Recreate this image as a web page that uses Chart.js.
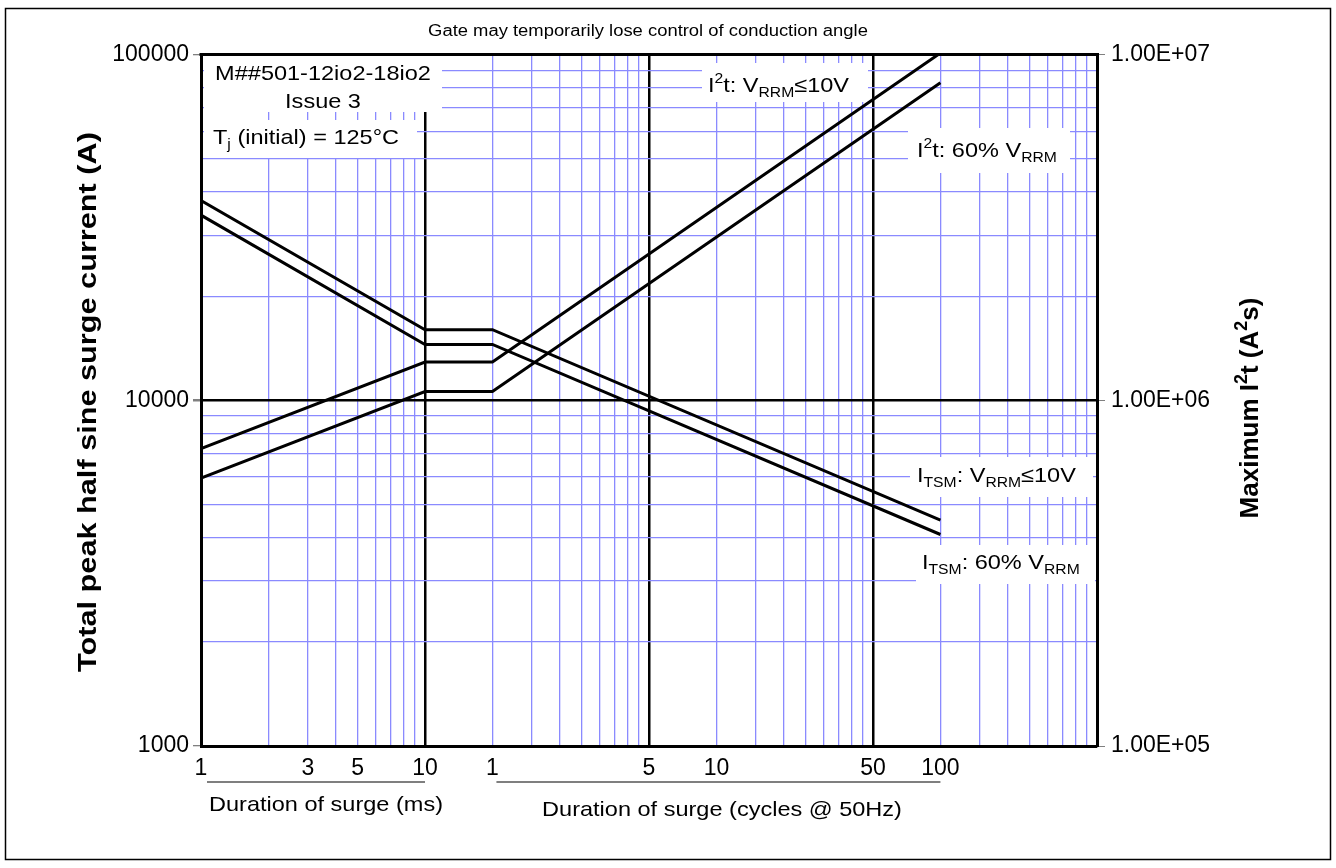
<!DOCTYPE html>
<html>
<head>
<meta charset="utf-8">
<script src="https://cdn.jsdelivr.net/npm/chart.js@4"></script>
<style>
html,body{margin:0;padding:0;background:#fff;}
canvas{display:block;}
</style>
</head>
<body>
<canvas id="c" width="1336" height="868"></canvas>
<script>
// ---- data (durations in ms; 1 cycle @ 50Hz = 20 ms) ----
const durationsMs = [1, 10, 20, 2000];
const itsmLow  = [37800, 16000, 16000, 4500];      // I_TSM, V_RRM <= 10V (A)
const itsm60   = [34300, 14500, 14500, 4090];      // I_TSM, 60% V_RRM (A)
const i2tLow   = [725000, 1290000, 1290000, 10100000]; // I2t, V_RRM <= 10V (A2s)
const i2t60    = [595000, 1060000, 1060000, 8290000];  // I2t, 60% V_RRM (A2s)

const xLabelValues = [1, 3, 5, 10, 20, 100, 200, 1000, 2000];
const xLabelTexts  = ['1', '3', '5', '10', '1', '5', '10', '50', '100'];
const yLabelValues = [1000, 10000, 100000];
const yLabelTexts  = ['1000', '10000', '100000'];
const y2LabelValues = [1e5, 1e6, 1e7];
const y2LabelTexts  = ['1.00E+05', '1.00E+06', '1.00E+07'];

const FONT = '"Liberation Sans", Arial, Helvetica, sans-serif';
const BLUE = '#8a8aff';

function logGrid(min, max) {
  const out = [];
  for (let d = min; d < max; d *= 10) {
    for (let k = 1; k < 10; k++) out.push(d * k);
  }
  out.push(max);
  return out;
}
const xGrid = logGrid(1, 10000);
const yGrid = logGrid(1000, 100000);

function mkPts(ys) { return durationsMs.map((x, i) => ({x: x, y: ys[i]})); }

function drawRich(ctx, segs, x, y, size, opts) {
  opts = opts || {};
  const bold = opts.bold ? 'bold ' : '';
  const sx = opts.sx || 1;
  const align = opts.align || 'left';
  const fontFor = s => bold + (s.s ? Math.round(size * 0.68) : size) + 'px ' + FONT;
  let w = 0;
  segs.forEach(s => { ctx.font = fontFor(s); w += ctx.measureText(s.t).width; });
  ctx.save();
  ctx.translate(x, y);
  if (opts.rot) ctx.rotate(opts.rot);
  ctx.scale(sx, 1);
  ctx.fillStyle = opts.color || '#000';
  ctx.textBaseline = 'alphabetic';
  ctx.textAlign = 'left';
  let cx = align === 'center' ? -w / 2 : (align === 'right' ? -w : 0);
  segs.forEach(s => {
    ctx.font = fontFor(s);
    let dy = 0;
    if (s.s === 'sub') dy = size * 0.24;
    if (s.s === 'sup') dy = -size * 0.42;
    ctx.fillText(s.t, cx, dy);
    cx += ctx.measureText(s.t).width;
  });
  ctx.restore();
}

const SX = 1.12;
const boxes = [
  {r: [204, 56, 442, 112], lines: [
    {segs: [{t: 'M##501-12io2-18io2'}], x: 323, y: 80, align: 'center'},
    {segs: [{t: 'Issue 3'}], x: 323, y: 107.5, align: 'center'}]},
  {r: [204, 120, 417, 158], lines: [
    {segs: [{t: 'T'}, {t: 'j', s: 'sub'}, {t: ' (initial) = 125°C'}], x: 213, y: 143.5}]},
  {r: [702, 63, 868, 102], lines: [
    {segs: [{t: 'I'}, {t: '2', s: 'sup'}, {t: 't: V'}, {t: 'RRM', s: 'sub'}, {t: '\u226410V'}], x: 708, y: 91.5}]},
  {r: [908, 128, 1070, 173], lines: [
    {segs: [{t: 'I'}, {t: '2', s: 'sup'}, {t: 't: 60% V'}, {t: 'RRM', s: 'sub'}], x: 917, y: 156.5}]},
  {r: [910, 457, 1093, 497], lines: [
    {segs: [{t: 'I'}, {t: 'TSM', s: 'sub'}, {t: ': V'}, {t: 'RRM', s: 'sub'}, {t: '\u226410V'}], x: 917, y: 481.5}]},
  {r: [916, 545, 1095, 584], lines: [
    {segs: [{t: 'I'}, {t: 'TSM', s: 'sub'}, {t: ': 60% V'}, {t: 'RRM', s: 'sub'}], x: 922, y: 568.5}]}
];

const decorPlugin = {
  id: 'decor',
  beforeDraw(chart) {
    const ctx = chart.ctx;
    ctx.save();
    ctx.fillStyle = '#fff';
    ctx.fillRect(0, 0, chart.width, chart.height);
    ctx.strokeStyle = '#000';
    ctx.lineWidth = 1.5;
    ctx.strokeRect(5.5, 8.5, 1325, 851);
    ctx.restore();
  },
  beforeDatasetsDraw(chart) {
    const ctx = chart.ctx;
    ctx.save();
    boxes.forEach(b => {
      ctx.fillStyle = '#fff';
      ctx.fillRect(b.r[0], b.r[1], b.r[2] - b.r[0], b.r[3] - b.r[1]);
      b.lines.forEach(l => drawRich(ctx, l.segs, l.x, l.y, 21, {sx: SX, align: l.align}));
    });
    ctx.restore();
  },
  afterDraw(chart) {
    const ctx = chart.ctx;
    const a = chart.chartArea;
    const xs = chart.scales.x;
    ctx.save();
    // top frame of plot
    ctx.strokeStyle = '#000';
    ctx.lineWidth = 3;
    ctx.beginPath();
    ctx.moveTo(a.left - 1.5, a.top);
    ctx.lineTo(a.right + 1.5, a.top);
    ctx.stroke();
    // title
    drawRich(ctx, [{t: 'Gate may temporarily lose control of conduction angle'}], 648, 35.5, 16, {sx: 1.15, align: 'center'});
    // axis titles
    drawRich(ctx, [{t: 'Total peak half sine surge current (A)'}], 96, 402, 26, {bold: true, align: 'center', rot: -Math.PI / 2, sx: 1.18});
    drawRich(ctx, [{t: 'Maximum I'}, {t: '2', s: 'sup'}, {t: 't (A'}, {t: '2', s: 'sup'}, {t: 's)'}], 1258, 408, 26, {bold: true, align: 'center', rot: -Math.PI / 2});
    // x group underlines
    ctx.strokeStyle = '#7f7f7f';
    ctx.lineWidth = 2;
    ctx.beginPath();
    ctx.moveTo(xs.getPixelForValue(1) + 6, 782);
    ctx.lineTo(xs.getPixelForValue(10), 782);
    ctx.moveTo(xs.getPixelForValue(20) + 4, 782);
    ctx.lineTo(xs.getPixelForValue(2000), 782);
    ctx.stroke();
    drawRich(ctx, [{t: 'Duration of surge (ms)'}], 326, 810.5, 21, {sx: SX, align: 'center'});
    drawRich(ctx, [{t: 'Duration of surge (cycles @ 50Hz)'}], 722, 815.5, 21, {sx: SX, align: 'center'});
    ctx.restore();
  }
};

const lineStyle = {borderColor: '#000', borderWidth: 3, pointRadius: 0, fill: false, tension: 0};

new Chart(document.getElementById('c'), {
  type: 'line',
  data: {
    datasets: [
      Object.assign({label: 'ITSM VRRM<=10V', data: mkPts(itsmLow), yAxisID: 'y'}, lineStyle),
      Object.assign({label: 'ITSM 60% VRRM', data: mkPts(itsm60), yAxisID: 'y'}, lineStyle),
      Object.assign({label: 'I2t VRRM<=10V', data: mkPts(i2tLow), yAxisID: 'y2'}, lineStyle),
      Object.assign({label: 'I2t 60% VRRM', data: mkPts(i2t60), yAxisID: 'y2'}, lineStyle)
    ]
  },
  options: {
    responsive: false,
    devicePixelRatio: 1,
    animation: false,
    parsing: true,
    layout: {padding: {top: 54.5, left: 0, right: 0, bottom: 0}},
    plugins: {legend: {display: false}, tooltip: {enabled: false}, title: {display: false}},
    scales: {
      x: {
        type: 'logarithmic',
        min: 1, max: 10000,
        afterBuildTicks: s => { s.ticks = xGrid.map(v => ({value: v})); },
        afterFit: s => { s.height = 868 - 746; },
        ticks: {
          autoSkip: false, maxRotation: 0, minRotation: 0, padding: 9,
          color: '#000', font: {family: FONT, size: 23},
          callback: v => { const i = xLabelValues.indexOf(v); return i >= 0 ? xLabelTexts[i] : ''; }
        },
        grid: {
          drawTicks: false,
          color: c => ([10, 100, 1000].includes(c.tick && c.tick.value) ? '#000' : BLUE),
          lineWidth: c => ([10, 100, 1000].includes(c.tick && c.tick.value) ? 2.5 : 1.3)
        },
        border: {display: true, color: '#000', width: 3}
      },
      y: {
        type: 'logarithmic',
        position: 'left',
        min: 1000, max: 100000,
        afterBuildTicks: s => { s.ticks = yGrid.map(v => ({value: v})); },
        afterFit: s => { s.width = 201; },
        ticks: {
          autoSkip: false, padding: 4,
          color: '#000', font: {family: FONT, size: 23},
          callback: v => { const i = yLabelValues.indexOf(v); return i >= 0 ? yLabelTexts[i] : ''; }
        },
        grid: {
          drawTicks: true, tickLength: 8,
          tickColor: c => (yLabelValues.includes(c.tick && c.tick.value) ? '#808080' : 'rgba(0,0,0,0)'),
          color: c => ((c.tick && c.tick.value) === 10000 ? '#000' : BLUE),
          lineWidth: c => ((c.tick && c.tick.value) === 10000 ? 2.5 : 1.3)
        },
        border: {display: true, color: '#000', width: 3}
      },
      y2: {
        type: 'logarithmic',
        position: 'right',
        min: 1e5, max: 1e7,
        afterBuildTicks: s => { s.ticks = y2LabelValues.map(v => ({value: v})); },
        afterFit: s => { s.width = 1336 - 1097; },
        ticks: {
          autoSkip: false, padding: 6,
          color: '#000', font: {family: FONT, size: 23},
          callback: v => { const i = y2LabelValues.indexOf(v); return i >= 0 ? y2LabelTexts[i] : ''; }
        },
        grid: {drawOnChartArea: false, drawTicks: true, tickLength: 8, tickColor: '#808080'},
        border: {display: true, color: '#000', width: 3}
      }
    }
  },
  plugins: [decorPlugin]
});
</script>
</body>
</html>
